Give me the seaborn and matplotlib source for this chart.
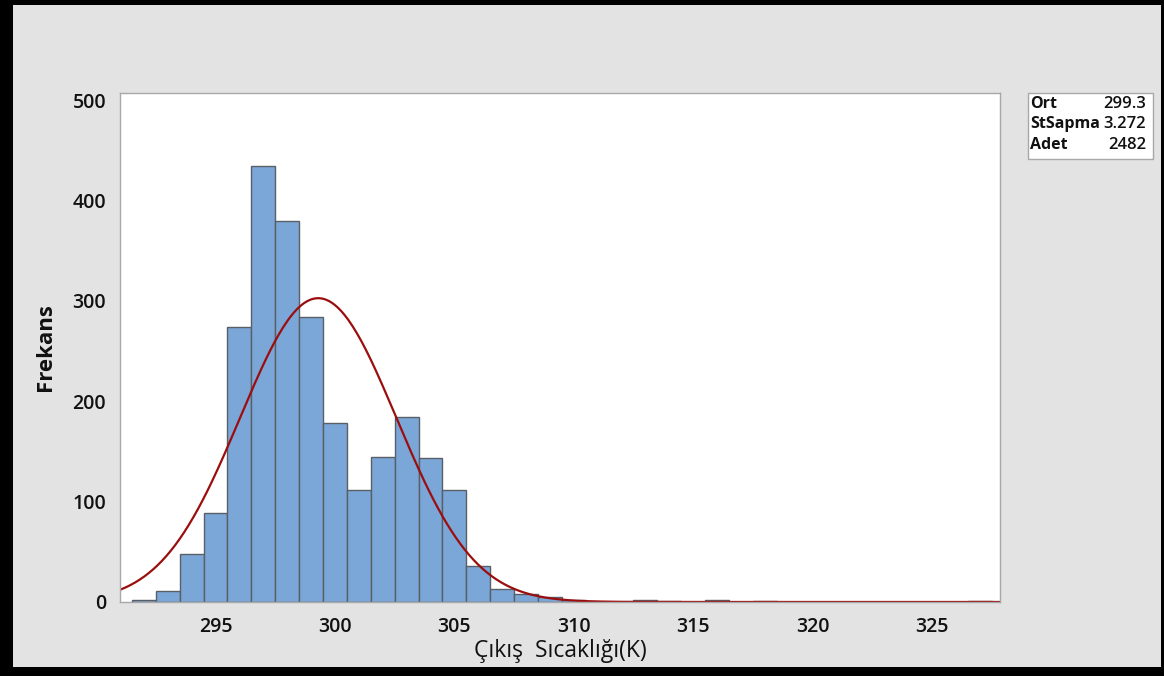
"""
Histogram of outlet temperature (Çıkış Sıcaklığı) with fitted normal curve
"""

import numpy as np
import pandas as pd
import matplotlib
matplotlib.use("Agg")
import matplotlib.pyplot as plt
from matplotlib.patches import Rectangle
import seaborn as sns

# Data (bin centres, width 1 K)
bin_centers = [292, 293, 294, 295, 296, 297, 298, 299, 300, 301, 302, 303,
               304, 305, 306, 307, 308, 309, 310, 313, 314, 316, 318, 327]
counts = [2, 11, 48, 89, 274, 434, 380, 284, 178, 112, 144, 184,
          143, 112, 36, 13, 8, 5, 2, 2, 1, 2, 1, 1]

# Summary statistics shown in the legend box
stat_labels = ["Ort", "StSapma", "Adet"]
stat_values = ["299.3", "3.272", "2482"]
mean_val = 299.3
sd_val = 3.272
n_val = 2482

x_ticks = [295, 300, 305, 310, 315, 320, 325]
y_ticks = [0, 100, 200, 300, 400, 500]

BAR_COLOR = "#7BA6D8"
EDGE_COLOR = "#5a5f66"
CURVE_COLOR = "#9B0E0E"
BG_COLOR = "#e3e3e3"

sns.set_theme(style="white")
plt.rcParams["font.family"] = ["Open Sans", "DejaVu Sans"]

df = pd.DataFrame({"temp": bin_centers, "count": counts})
edges = [291.5 + i for i in range(37)]

# Fitted normal curve (expected count per 1 K bin)
xs = np.linspace(290.5, 328, 400)
curve = pd.DataFrame({
    "x": xs,
    "y": n_val * 1.0 / (sd_val * np.sqrt(2 * np.pi)) * np.exp(-0.5 * ((xs - mean_val) / sd_val) ** 2),
})

fig = plt.figure(figsize=(11.64, 6.76), dpi=100, facecolor=BG_COLOR)
ax = fig.add_axes([0.1031, 0.1095, 0.7560, 0.7529])
ax.set_facecolor("white")

sns.histplot(data=df, x="temp", weights="count", bins=edges, ax=ax,
             color=BAR_COLOR, edgecolor=EDGE_COLOR, linewidth=1.0, alpha=1.0)
sns.lineplot(data=curve, x="x", y="y", ax=ax, color=CURVE_COLOR, linewidth=1.6)

ax.set_xlim(291.0, 327.85)
ax.set_ylim(0, 507)
ax.set_xticks(x_ticks)
ax.set_yticks(y_ticks)
ax.tick_params(axis="both", which="both", direction="out", length=6, width=1,
               color="#a0a0a0", labelsize=14, labelcolor="#111111", pad=4)
ax.tick_params(axis="x", pad=5)
for lbl in ax.get_xticklabels() + ax.get_yticklabels():
    lbl.set_fontweight("semibold")
for side in ["left", "bottom", "top", "right"]:
    ax.spines[side].set_color("#a8a8a8")
    ax.spines[side].set_linewidth(1.0)

ax.set_xlabel("Çıkış  Sıcaklığı(K)", fontsize=16.5, color="#111111", labelpad=1)
ax.set_ylabel("Frekans", fontsize=16, fontweight="bold", color="#111111", labelpad=12)

# Summary box to the right of the axes
W, H = 1164.0, 676.0
fig.patches.append(Rectangle((1028 / W, 1 - 159 / H), 125 / W, 66 / H,
                             transform=fig.transFigure, facecolor="white",
                             edgecolor="#a8a8a8", linewidth=1.0))
for i, (lab, val) in enumerate(zip(stat_labels, stat_values)):
    yy = 1 - (104 + i * 20.5) / H
    fig.text(1030 / W, yy, lab, fontsize=11.5, fontweight="bold", va="center", ha="left", color="#111111")
    fig.text(1146 / W, yy, val, fontsize=12, fontweight="semibold", va="center", ha="right", color="#111111")

# Black frame around the whole picture
frame = [(0, 0, 13, H), (0, H - 5, W, 5), (W - 3, 0, 3, H), (0, 0, W, 9)]
for (fx, fy, fw, fh) in frame:
    fig.patches.append(Rectangle((fx / W, fy / H), fw / W, fh / H,
                                 transform=fig.transFigure, facecolor="black",
                                 edgecolor="none"))

fig.savefig("out.png", dpi=100, facecolor=BG_COLOR)
